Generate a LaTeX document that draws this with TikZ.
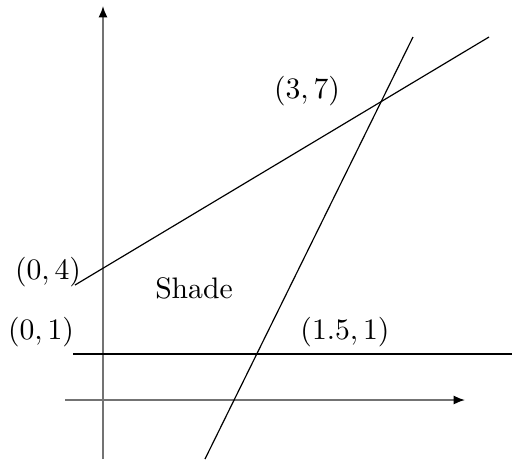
\documentclass[tikz,border=0pt]{standalone}
\usetikzlibrary{arrows.meta}
\begin{document}
\begin{tikzpicture}[x=0.337pt,y=-0.337pt,
  axis/.style={draw=black!55,line width=0.5pt,-{Latex[length=3.8pt,width=3pt,black]}},
  graphline/.style={draw=black,line width=0.4pt},
  lbl/.style={inner sep=0pt,font=\normalsize}]
\useasboundingbox (0,0) rectangle (512,459);
% axes
\coordinate (yb) at (103,459);
\coordinate (yt) at (103,6);
\coordinate (xl) at (65,400);
\coordinate (xr) at (465,400);
\draw[axis] (yb) -- (yt);
\draw[axis] (xl) -- (xr);
% lines
\coordinate (a1) at (75,285);
\coordinate (a2) at (489,37);
\coordinate (b1) at (205,459);
\coordinate (b2) at (413,37);
\coordinate (c1) at (73,354);
\coordinate (c2) at (512,354);
\draw[graphline] (a1) -- (a2);
\draw[graphline] (b1) -- (b2);
\draw[graphline] (c1) -- (c2);
% labels
\node[lbl] (p37) at (307,91) {$(3,7)$};
\node[lbl] (p04) at (48,272) {$(0,4)$};
\node[lbl] (shade) at (194,288) {Shade};
\node[lbl] (p01) at (41,332) {$(0,1)$};
\node[lbl] (p151) at (345,332) {$(1.5,1)$};
\end{tikzpicture}
\end{document}
